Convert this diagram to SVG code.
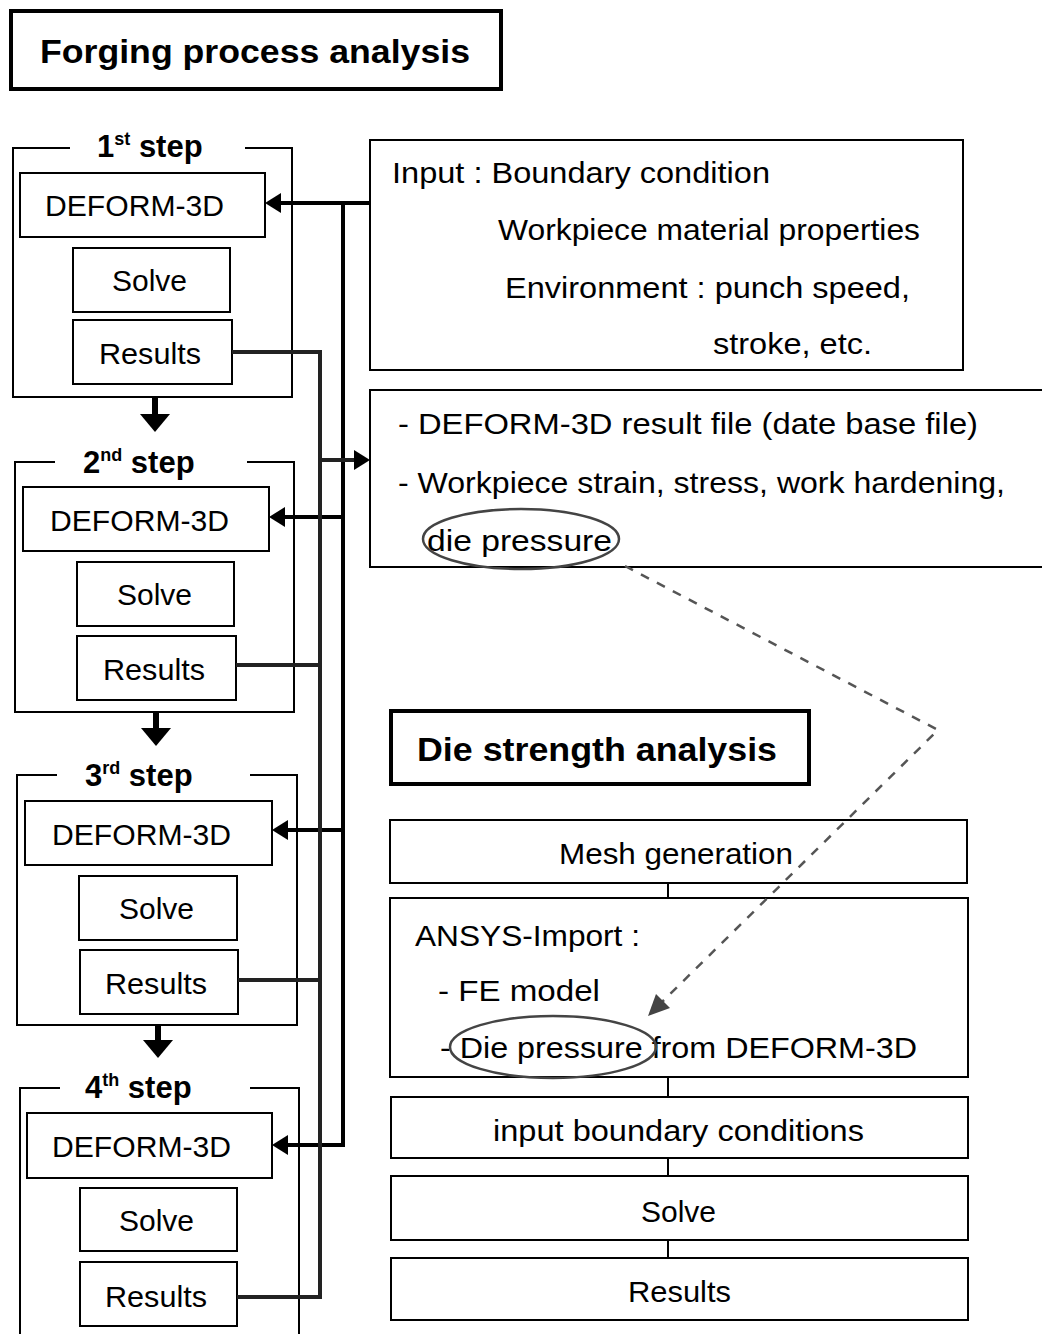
<svg xmlns="http://www.w3.org/2000/svg" width="1042" height="1334" viewBox="0 0 1042 1334">
<style>
.box{fill:#fff;stroke:#000;stroke-width:2}
.cont{fill:none;stroke:#000;stroke-width:2}
.title{fill:#fff;stroke:#000;stroke-width:4}
.t{font-family:"Liberation Sans",Arial,sans-serif;font-size:29px;fill:#000}
.tb{font-family:"Liberation Sans",Arial,sans-serif;font-size:33px;font-weight:bold;fill:#000}
.st{font-family:"Liberation Sans",Arial,sans-serif;font-size:31px;font-weight:bold;fill:#000}
.sup{font-size:18px}
.inl{fill:none;stroke:#000;stroke-width:4}
.res{fill:none;stroke:#222;stroke-width:4}
.thin{fill:none;stroke:#000;stroke-width:2}
.dash{fill:none;stroke:#555;stroke-width:2.5;stroke-dasharray:9 9}
.ell{fill:none;stroke:#444;stroke-width:2.5}
</style>

<g id="title-forging">
<rect class="title" x="11" y="11" width="490" height="78"/>
<text class="tb" x="40" y="63" textLength="430" lengthAdjust="spacingAndGlyphs">Forging process analysis</text>
</g>

<g id="step1">
<path class="cont" d="M70,148 H13 V397 H292 V148 H245"/>
<text class="st" x="97" y="157">1<tspan class="sup" dy="-12">st</tspan><tspan dy="12"> step</tspan></text>
<rect class="box" x="20" y="173" width="245" height="64"/>
<text class="t" x="45" y="216" textLength="179" lengthAdjust="spacingAndGlyphs">DEFORM-3D</text>
<rect class="box" x="73" y="248" width="157" height="64"/>
<text class="t" x="112" y="291" textLength="75" lengthAdjust="spacingAndGlyphs">Solve</text>
<rect class="box" x="73" y="320" width="159" height="64"/>
<text class="t" x="99" y="364" textLength="102" lengthAdjust="spacingAndGlyphs">Results</text>
</g>

<g id="step2">
<path class="cont" d="M55,462 H15 V712 H294 V462 H247"/>
<text class="st" x="83" y="473">2<tspan class="sup" dy="-12">nd</tspan><tspan dy="12"> step</tspan></text>
<rect class="box" x="23" y="487" width="246" height="64"/>
<text class="t" x="50" y="531" textLength="179" lengthAdjust="spacingAndGlyphs">DEFORM-3D</text>
<rect class="box" x="77" y="562" width="157" height="64"/>
<text class="t" x="117" y="605" textLength="75" lengthAdjust="spacingAndGlyphs">Solve</text>
<rect class="box" x="77" y="636" width="159" height="64"/>
<text class="t" x="103" y="680" textLength="102" lengthAdjust="spacingAndGlyphs">Results</text>
</g>

<g id="step3">
<path class="cont" d="M57,775 H17 V1025 H297 V775 H250"/>
<text class="st" x="85" y="786">3<tspan class="sup" dy="-12">rd</tspan><tspan dy="12"> step</tspan></text>
<rect class="box" x="25" y="801" width="247" height="64"/>
<text class="t" x="52" y="845" textLength="179" lengthAdjust="spacingAndGlyphs">DEFORM-3D</text>
<rect class="box" x="79" y="876" width="158" height="64"/>
<text class="t" x="119" y="919" textLength="75" lengthAdjust="spacingAndGlyphs">Solve</text>
<rect class="box" x="80" y="950" width="158" height="64"/>
<text class="t" x="105" y="994" textLength="102" lengthAdjust="spacingAndGlyphs">Results</text>
</g>

<g id="step4">
<path class="cont" d="M60,1088 H20 V1334 M299,1334 V1088 H250"/>
<text class="st" x="85" y="1098">4<tspan class="sup" dy="-12">th</tspan><tspan dy="12"> step</tspan></text>
<rect class="box" x="27" y="1113" width="245" height="65"/>
<text class="t" x="52" y="1157" textLength="179" lengthAdjust="spacingAndGlyphs">DEFORM-3D</text>
<rect class="box" x="80" y="1188" width="157" height="63"/>
<text class="t" x="119" y="1231" textLength="75" lengthAdjust="spacingAndGlyphs">Solve</text>
<rect class="box" x="80" y="1262" width="157" height="64"/>
<text class="t" x="105" y="1307" textLength="102" lengthAdjust="spacingAndGlyphs">Results</text>
</g>

<g id="input-box">
<rect class="box" x="370" y="140" width="593" height="230"/>
<text class="t" x="392" y="183" textLength="378" lengthAdjust="spacingAndGlyphs">Input : Boundary condition</text>
<text class="t" x="498" y="240" textLength="422" lengthAdjust="spacingAndGlyphs">Workpiece material properties</text>
<text class="t" x="505" y="298" textLength="405" lengthAdjust="spacingAndGlyphs">Environment : punch speed,</text>
<text class="t" x="713" y="354" textLength="159" lengthAdjust="spacingAndGlyphs">stroke, etc.</text>
</g>

<g id="result-file-box">
<path class="cont" d="M1042,390 H370 V567 H1042"/>
<text class="t" x="398" y="434" textLength="580" lengthAdjust="spacingAndGlyphs">- DEFORM-3D result file (date base file)</text>
<text class="t" x="398" y="493" textLength="607" lengthAdjust="spacingAndGlyphs">- Workpiece strain, stress, work hardening,</text>
<text class="t" x="427" y="551" textLength="185" lengthAdjust="spacingAndGlyphs">die pressure</text>
<ellipse class="ell" cx="521" cy="539" rx="98" ry="30"/>
</g>

<g id="title-die">
<rect class="title" x="391" y="711" width="418" height="73"/>
<text class="tb" x="417" y="761" textLength="360" lengthAdjust="spacingAndGlyphs">Die strength analysis</text>
</g>

<g id="mesh">
<rect class="box" x="390" y="820" width="577" height="63"/>
<text class="t" x="559" y="864" textLength="234" lengthAdjust="spacingAndGlyphs">Mesh generation</text>
</g>

<g id="ansys">
<rect class="box" x="390" y="898" width="578" height="179"/>
<text class="t" x="415" y="946" textLength="225" lengthAdjust="spacingAndGlyphs">ANSYS-Import :</text>
<text class="t" x="438" y="1001" textLength="162" lengthAdjust="spacingAndGlyphs">- FE model</text>
<text class="t" x="440" y="1058" textLength="477" lengthAdjust="spacingAndGlyphs">- Die pressure from DEFORM-3D</text>
<ellipse class="ell" cx="553" cy="1047" rx="103" ry="31"/>
</g>

<g id="input-bc">
<rect class="box" x="391" y="1097" width="577" height="61"/>
<text class="t" x="493" y="1141" textLength="371" lengthAdjust="spacingAndGlyphs">input boundary conditions</text>
</g>

<g id="die-solve">
<rect class="box" x="391" y="1176" width="577" height="64"/>
<text class="t" x="641" y="1222" textLength="75" lengthAdjust="spacingAndGlyphs">Solve</text>
</g>

<g id="die-results">
<rect class="box" x="391" y="1258" width="577" height="62"/>
<text class="t" x="628" y="1302" textLength="103" lengthAdjust="spacingAndGlyphs">Results</text>
</g>

<g id="connectors">
<path class="inl" d="M370,203 H276"/>
<path class="inl" d="M343,203 V1145 H281"/>
<path class="inl" d="M343,517 H280"/>
<path class="inl" d="M343,830 H283"/>
<polygon points="265,203 281,193 281,213" fill="#000"/>
<polygon points="269,517 285,507 285,527" fill="#000"/>
<polygon points="272,830 288,820 288,840" fill="#000"/>
<polygon points="272,1145 288,1135 288,1155" fill="#000"/>
<path class="res" d="M232,352 H320 V1297 H237"/>
<path class="res" d="M236,665 H320"/>
<path class="res" d="M238,980 H320"/>
<path class="res" d="M320,460 H356"/>
<polygon points="370,460 354,450 354,470" fill="#000"/>
<path d="M155,397 V416" stroke="#000" stroke-width="6"/>
<polygon points="140,414 170,414 155,432" fill="#000"/>
<path d="M156,712 V730" stroke="#000" stroke-width="6"/>
<polygon points="141,728 171,728 156,746" fill="#000"/>
<path d="M158,1025 V1042" stroke="#000" stroke-width="6"/>
<polygon points="143,1040 173,1040 158,1058" fill="#000"/>
<path class="thin" d="M668,883 V898"/>
<path class="thin" d="M668,1077 V1097"/>
<path class="thin" d="M668,1158 V1176"/>
<path class="thin" d="M668,1240 V1258"/>
<path class="dash" d="M625,566 L938,730 L662,1002"/>
<polygon points="648,1016 656,994 670,1008" fill="#444"/>
</g>
</svg>
